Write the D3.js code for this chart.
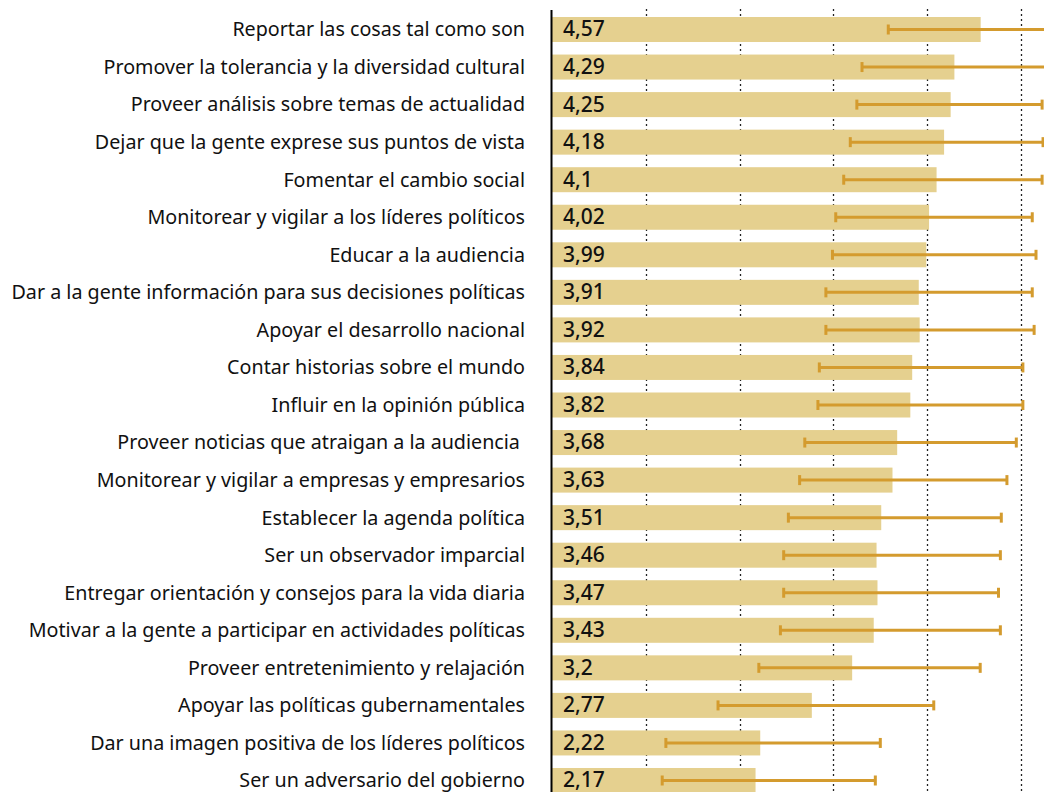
<!DOCTYPE html>
<html>
<head>
<meta charset="utf-8">
<script src="https://cdn.jsdelivr.net/npm/d3@7"></script>
<style>
  body { margin: 0; background: #fff; }
  svg { display: block; }
  .label { font-family: 'Noto Sans', sans-serif; font-size: 19.7px; fill: #111; white-space: pre; }
  .value { font-family: 'Noto Sans', sans-serif; font-size: 21px; font-weight: 500; fill: #111; }
</style>
</head>
<body>
<svg width="1044" height="792"></svg>
<script>
const categories = [
  'Reportar las cosas tal como son',
  'Promover la tolerancia y la diversidad cultural',
  'Proveer análisis sobre temas de actualidad',
  'Dejar que la gente exprese sus puntos de vista',
  'Fomentar el cambio social',
  'Monitorear y vigilar a los líderes políticos',
  'Educar a la audiencia',
  'Dar a la gente información para sus decisiones políticas',
  'Apoyar el desarrollo nacional',
  'Contar historias sobre el mundo',
  'Influir en la opinión pública',
  'Proveer noticias que atraigan a la audiencia ',
  'Monitorear y vigilar a empresas y empresarios',
  'Establecer la agenda política',
  'Ser un observador imparcial',
  'Entregar orientación y consejos para la vida diaria',
  'Motivar a la gente a participar en actividades políticas',
  'Proveer entretenimiento y relajación',
  'Apoyar las políticas gubernamentales',
  'Dar una imagen positiva de los líderes políticos',
  'Ser un adversario del gobierno'
];
const means = [4.57, 4.29, 4.25, 4.18, 4.1, 4.02, 3.99, 3.91, 3.92, 3.84, 3.82, 3.68, 3.63, 3.51, 3.46, 3.47, 3.43, 3.2, 2.77, 2.22, 2.17];
const lower = [3.585, 3.305, 3.25, 3.18, 3.11, 3.025, 2.99, 2.92, 2.92, 2.85, 2.835, 2.695, 2.64, 2.52, 2.47, 2.47, 2.435, 2.205, 1.77, 1.214, 1.175];
const upper = [5.6, 5.5, 5.225, 5.235, 5.225, 5.12, 5.16, 5.12, 5.14, 5.02, 5.02, 4.95, 4.85, 4.79, 4.78, 4.76, 4.78, 4.565, 4.07, 3.5, 3.447];
const gridTicks = [1, 2, 3, 4, 5];

const data = categories.map((c, i) => ({ cat: c, mean: means[i], lo: lower[i], hi: upper[i] }));

const svg = d3.select('svg');
const width = +svg.attr('width');
const height = +svg.attr('height');

const x = d3.scaleLinear().domain([0, 5]).range([552, 1021]);
const y = d3.scaleBand().domain(categories).range([17, 793]).paddingInner(0.334).paddingOuter(0);

const fmt = v => String(v).replace('.', ',');

// dotted grid
svg.append('g').selectAll('line').data(gridTicks).join('line')
  .attr('x1', d => Math.round(x(d)) + 0.5).attr('x2', d => Math.round(x(d)) + 0.5)
  .attr('y1', 9).attr('y2', height)
  .attr('stroke', '#222').attr('stroke-width', 1.3)
  .attr('stroke-dasharray', '2,3');

// bars
svg.append('g').selectAll('rect').data(data).join('rect')
  .attr('x', x(0))
  .attr('y', d => y(d.cat))
  .attr('width', d => x(d.mean) - x(0))
  .attr('height', y.bandwidth())
  .attr('fill', '#e5d08f');

// error bars
const err = svg.append('g').attr('stroke', '#d49b2e');
err.selectAll('.whisker').data(data).join('line')
  .attr('class', 'whisker')
  .attr('x1', d => x(d.lo)).attr('x2', d => x(d.hi))
  .attr('y1', d => y(d.cat) + y.bandwidth() / 2)
  .attr('y2', d => y(d.cat) + y.bandwidth() / 2)
  .attr('stroke-width', 3);
['lo', 'hi'].forEach(k => {
  err.selectAll('.cap-' + k).data(data).join('line')
    .attr('class', 'cap-' + k)
    .attr('x1', d => x(d[k])).attr('x2', d => x(d[k]))
    .attr('y1', d => y(d.cat) + y.bandwidth() / 2 - 5)
    .attr('y2', d => y(d.cat) + y.bandwidth() / 2 + 5)
    .attr('stroke-width', 3);
});

// value labels
svg.append('g').selectAll('text').data(data).join('text')
  .attr('class', 'value')
  .attr('x', 563)
  .attr('y', d => y(d.cat) + y.bandwidth() / 2)
  .attr('dy', '0.33em')
  .text(d => fmt(d.mean));

// category labels
svg.append('g').selectAll('text').data(data).join('text')
  .attr('class', 'label')
  .attr('x', 525)
  .attr('y', d => y(d.cat) + y.bandwidth() / 2)
  .attr('dy', '0.35em')
  .attr('text-anchor', 'end')
  .text(d => d.cat);

// axis line
svg.append('line')
  .attr('x1', x(0) - 0.5).attr('x2', x(0) - 0.5)
  .attr('y1', 10).attr('y2', height)
  .attr('stroke', '#000').attr('stroke-width', 2);
</script>
</body>
</html>
